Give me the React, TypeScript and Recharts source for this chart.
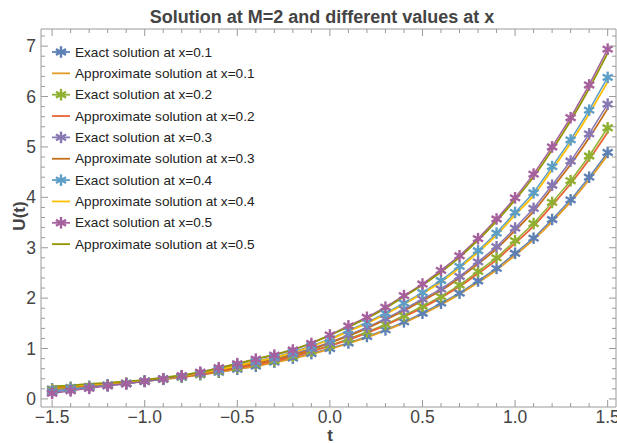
import React from 'react';
import { LineChart, Line, XAxis, YAxis, Legend } from 'recharts';

const tValues = [-1.5, -1.4, -1.3, -1.2, -1.1, -1.0, -0.9, -0.8, -0.7, -0.6, -0.5, -0.4, -0.3, -0.2, -0.1, 0, 0.1, 0.2, 0.3, 0.4, 0.5, 0.6, 0.7, 0.8, 0.9, 1.0, 1.1, 1.2, 1.3, 1.4, 1.5];

// exact solution (star markers)
const exact01 = [0.20, 0.23, 0.25, 0.28, 0.31, 0.35, 0.39, 0.43, 0.48, 0.53, 0.59, 0.65, 0.73, 0.81, 0.90, 1.00, 1.11, 1.24, 1.37, 1.53, 1.70, 1.90, 2.10, 2.34, 2.59, 2.89, 3.19, 3.56, 3.95, 4.40, 4.89];
const exact02 = [0.18, 0.21, 0.24, 0.275, 0.31, 0.35, 0.39, 0.44, 0.49, 0.55, 0.62, 0.69, 0.76, 0.85, 0.95, 1.06, 1.19, 1.33, 1.48, 1.65, 1.84, 2.03, 2.26, 2.53, 2.80, 3.14, 3.48, 3.90, 4.33, 4.82, 5.38];
const exact03 = [0.155, 0.195, 0.23, 0.27, 0.305, 0.35, 0.395, 0.45, 0.51, 0.57, 0.65, 0.72, 0.80, 0.89, 1.00, 1.12, 1.27, 1.42, 1.59, 1.78, 1.98, 2.18, 2.43, 2.72, 3.02, 3.39, 3.78, 4.24, 4.72, 5.26, 5.85];
const exact04 = [0.13, 0.18, 0.22, 0.265, 0.30, 0.35, 0.40, 0.455, 0.52, 0.59, 0.68, 0.75, 0.83, 0.93, 1.05, 1.19, 1.36, 1.52, 1.70, 1.90, 2.11, 2.35, 2.63, 2.94, 3.29, 3.70, 4.09, 4.61, 5.14, 5.73, 6.38];
const exact05 = [0.11, 0.16, 0.21, 0.26, 0.30, 0.35, 0.40, 0.46, 0.53, 0.62, 0.70, 0.79, 0.87, 0.97, 1.10, 1.27, 1.45, 1.62, 1.82, 2.05, 2.28, 2.55, 2.84, 3.18, 3.57, 3.99, 4.46, 5.00, 5.58, 6.23, 6.94];

// approximate solution (lines)
const approx01 = [0.21, 0.23, 0.26, 0.29, 0.32, 0.35, 0.39, 0.43, 0.48, 0.53, 0.59, 0.65, 0.72, 0.80, 0.89, 0.99, 1.10, 1.22, 1.36, 1.51, 1.68, 1.87, 2.08, 2.31, 2.56, 2.85, 3.16, 3.52, 3.91, 4.35, 4.84];
const approx02 = [0.22, 0.24, 0.27, 0.30, 0.33, 0.36, 0.40, 0.44, 0.49, 0.55, 0.61, 0.68, 0.75, 0.84, 0.94, 1.05, 1.17, 1.31, 1.46, 1.63, 1.81, 2.01, 2.23, 2.49, 2.76, 3.09, 3.43, 3.84, 4.27, 4.75, 5.29];
const approx03 = [0.23, 0.25, 0.28, 0.30, 0.33, 0.37, 0.41, 0.45, 0.50, 0.56, 0.63, 0.71, 0.78, 0.87, 0.98, 1.11, 1.25, 1.40, 1.57, 1.75, 1.95, 2.15, 2.40, 2.68, 2.98, 3.34, 3.72, 4.18, 4.65, 5.18, 5.76];
const approx04 = [0.24, 0.26, 0.28, 0.31, 0.34, 0.37, 0.41, 0.45, 0.51, 0.58, 0.66, 0.74, 0.82, 0.92, 1.04, 1.18, 1.34, 1.50, 1.68, 1.88, 2.09, 2.32, 2.60, 2.91, 3.25, 3.65, 4.04, 4.55, 5.08, 5.66, 6.29];
const approx05 = [0.25, 0.27, 0.30, 0.32, 0.35, 0.38, 0.42, 0.47, 0.53, 0.61, 0.70, 0.79, 0.88, 0.98, 1.11, 1.26, 1.43, 1.60, 1.80, 2.03, 2.26, 2.52, 2.81, 3.15, 3.53, 3.95, 4.41, 4.94, 5.52, 6.16, 6.86];

const xTicks = [-1.5, -1.4, -1.3, -1.2, -1.1, -1.0, -0.9, -0.8, -0.7, -0.6, -0.5, -0.4, -0.3, -0.2, -0.1, 0, 0.1, 0.2, 0.3, 0.4, 0.5, 0.6, 0.7, 0.8, 0.9, 1.0, 1.1, 1.2, 1.3, 1.4, 1.5];
const xMajor = [-1.5, -1.0, -0.5, 0, 0.5, 1.0, 1.5];
const yTicks = [0, 0.2, 0.4, 0.6, 0.8, 1, 1.2, 1.4, 1.6, 1.8, 2, 2.2, 2.4, 2.6, 2.8, 3, 3.2, 3.4, 3.6, 3.8, 4, 4.2, 4.4, 4.6, 4.8, 5, 5.2, 5.4, 5.6, 5.8, 6, 6.2, 6.4, 6.6, 6.8, 7, 7.2];
const yMajor = [0, 1, 2, 3, 4, 5, 6, 7];

const series = [
  { key: 'e1', name: 'Exact solution at x=0.1', color: '#5E81B5', star: true, values: exact01 },
  { key: 'a1', name: 'Approximate solution at x=0.1', color: '#E19C24', star: false, values: approx01 },
  { key: 'e2', name: 'Exact solution at x=0.2', color: '#8FB032', star: true, values: exact02 },
  { key: 'a2', name: 'Approximate solution at x=0.2', color: '#EB6235', star: false, values: approx02 },
  { key: 'e3', name: 'Exact solution at x=0.3', color: '#8778B3', star: true, values: exact03 },
  { key: 'a3', name: 'Approximate solution at x=0.3', color: '#C56E1A', star: false, values: approx03 },
  { key: 'e4', name: 'Exact solution at x=0.4', color: '#5D9EC7', star: true, values: exact04 },
  { key: 'a4', name: 'Approximate solution at x=0.4', color: '#FFBF00', star: false, values: approx04 },
  { key: 'e5', name: 'Exact solution at x=0.5', color: '#A5609D', star: true, values: exact05 },
  { key: 'a5', name: 'Approximate solution at x=0.5', color: '#929600', star: false, values: approx05 },
];

const data = tValues.map((t, i) => {
  const row: any = { t };
  series.forEach((s) => { row[s.key] = s.values[i]; });
  return row;
});

const FONT = '"Liberation Sans", Arial, sans-serif';
const FRAME = '#9a9a9a';
const TXT = '#444';

const isMajor = (list: number[], v: number) => list.some((m) => Math.abs(m - v) < 1e-6);
const fmtX = (v: number) => (v < 0 ? '\u2212' : '') + Math.abs(v).toFixed(1);

const Star = ({ cx, cy, color, r = 5.8 }: any) => {
  if (cx == null || cy == null) return null;
  return (
    <g>
      {[90, 30, 150].map((a) => {
        const dx = Math.cos((a * Math.PI) / 180) * r;
        const dy = Math.sin((a * Math.PI) / 180) * r;
        return <line key={a} x1={cx - dx} y1={cy - dy} x2={cx + dx} y2={cy + dy} stroke={color} strokeWidth={2.4} />;
      })}
    </g>
  );
};

const BottomTick = ({ x, y, payload }: any) => {
  const major = isMajor(xMajor, payload.value);
  return (
    <g>
      <line x1={x} x2={x} y1={y} y2={y - (major ? 7 : 4)} stroke={FRAME} />
      {major && (
        <text x={x} y={y + 16} textAnchor="middle" fill={TXT} fontSize={17.5} fontFamily={FONT}>
          {fmtX(payload.value)}
        </text>
      )}
    </g>
  );
};

const TopTick = ({ x, y, payload }: any) => {
  const major = isMajor(xMajor, payload.value);
  return <line x1={x} x2={x} y1={y} y2={y + (major ? 7 : 4)} stroke={FRAME} />;
};

const LeftTick = ({ x, y, payload }: any) => {
  const major = isMajor(yMajor, payload.value);
  return (
    <g>
      <line x1={x} x2={x + (major ? 7 : 4)} y1={y} y2={y} stroke={FRAME} />
      {major && (
        <text x={x - 5} y={y + 6} textAnchor="end" fill={TXT} fontSize={17.5} fontFamily={FONT}>
          {payload.value}
        </text>
      )}
    </g>
  );
};

const RightTick = ({ x, y, payload }: any) => {
  const major = isMajor(yMajor, payload.value);
  return <line x1={x} x2={x - (major ? 7 : 4)} y1={y} y2={y} stroke={FRAME} />;
};

const LegendBox = () => (
  <svg width={230} height={225} style={{ display: 'block' }}>
    {series.map((s, i) => {
      const y = 10 + i * 21.35;
      return (
        <g key={s.key}>
          <line x1={4} x2={22} y1={y} y2={y} stroke={s.color} strokeWidth={1.8} />
          {s.star && <Star cx={13} cy={y} color={s.color} />}
          <text x={27} y={y} dominantBaseline="central" fontSize={13.6} fontFamily={FONT} fill="#222">
            {s.name}
          </text>
        </g>
      );
    })}
  </svg>
);

export default function App() {
  return (
    <div style={{ position: 'absolute', left: 0, top: 0, background: '#fff' }}>
      <LineChart width={617} height={443} data={data} margin={{ top: 28, right: 0, bottom: 0, left: 0 }}>
        <XAxis
          xAxisId="b"
          dataKey="t"
          type="number"
          domain={[-1.56, 1.545]}
          allowDataOverflow
          ticks={xTicks}
          interval={0}
          height={36}
          tickSize={0}
          tickMargin={0}
          tickLine={false}
          axisLine={{ stroke: FRAME }}
          tick={<BottomTick />}
          label={{
            content: () => (
              <text x={330} y={441} textAnchor="middle" fontSize={17} fontWeight="bold" fill={TXT} fontFamily={FONT}>
                t
              </text>
            ),
          }}
        />
        <XAxis
          xAxisId="top"
          orientation="top"
          dataKey="t"
          type="number"
          domain={[-1.56, 1.545]}
          allowDataOverflow
          ticks={xTicks}
          interval={0}
          height={1}
          tickSize={0}
          tickMargin={0}
          tickLine={false}
          axisLine={{ stroke: FRAME }}
          tick={<TopTick />}
        />
        <YAxis
          yAxisId="l"
          type="number"
          domain={[-0.16, 7.34]}
          allowDataOverflow
          ticks={yTicks}
          interval={0}
          width={41}
          tickSize={0}
          tickMargin={0}
          tickLine={false}
          axisLine={{ stroke: FRAME }}
          tick={<LeftTick />}
          label={{
            content: () => (
              <g>
                <text x={19} y={216} transform="rotate(-90 19 216)" textAnchor="middle" dominantBaseline="central" fontSize={17} fontWeight="bold" fill={TXT} fontFamily={FONT}>
                  U(t)
                </text>
                <text x={322} y={23} textAnchor="middle" fontSize={18} fontWeight="bold" fill={TXT} fontFamily={FONT}>
                  Solution at M=2 and different values at x
                </text>
              </g>
            ),
          }}
        />
        <YAxis
          yAxisId="r"
          orientation="right"
          type="number"
          domain={[-0.16, 7.34]}
          allowDataOverflow
          ticks={yTicks}
          interval={0}
          width={1}
          tickSize={0}
          tickMargin={0}
          tickLine={false}
          axisLine={{ stroke: FRAME }}
          tick={<RightTick />}
        />
        <Legend
          layout="vertical"
          align="center"
          verticalAlign="middle"
          wrapperStyle={{ left: 48, top: 42, width: 230, height: 225 }}
          content={() => <LegendBox />}
        />
        <Line xAxisId="top" yAxisId="r" dataKey="e1" stroke="none" dot={false} isAnimationActive={false} legendType="none" />
        {series.map((s) => (
          <Line
            key={s.key}
            xAxisId="b"
            yAxisId="l"
            dataKey={s.key}
            name={s.name}
            type={s.star ? 'linear' : 'monotone'}
            stroke={s.color}
            strokeWidth={s.star ? 1.5 : 1.8}
            dot={s.star ? (p: any) => <Star key={`${s.key}-${p.index}`} cx={p.cx} cy={p.cy} color={s.color} /> : false}
            activeDot={false}
            isAnimationActive={false}
          />
        ))}
      </LineChart>
    </div>
  );
}
